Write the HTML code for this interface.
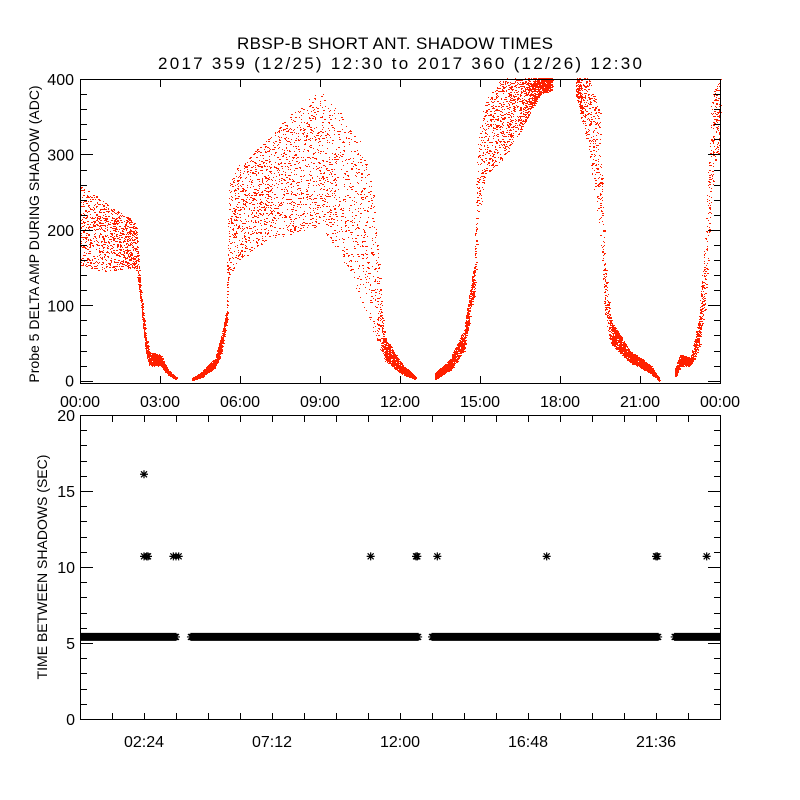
<!DOCTYPE html>
<html><head><meta charset="utf-8"><style>
body{margin:0;background:#fff}
svg{display:block;font-family:"Liberation Sans",sans-serif}
</style></head><body>
<svg id="chart" width="800" height="800" viewBox="0 0 800 800">
<defs><clipPath id="botClip"><rect x="80" y="415" width="641" height="305"/></clipPath></defs>
<rect width="800" height="800" fill="#fff"/>
<text x="237" y="49" textLength="316" lengthAdjust="spacing" font-size="17">RBSP-B SHORT ANT. SHADOW TIMES</text>
<text x="158" y="69" textLength="484" lengthAdjust="spacing" font-size="17">2017 359 (12/25) 12:30 to 2017 360 (12/26) 12:30</text>
<g id="topPanel"></g>
<g id="botPanel"></g>
<text transform="translate(39,234) rotate(-90)" text-anchor="middle" font-size="14">Probe 5 DELTA AMP DURING SHADOW (ADC)</text>
<text transform="translate(47,567) rotate(-90)" text-anchor="middle" font-size="14">TIME BETWEEN SHADOWS (SEC)</text>
</svg>
<script>
// Amplitude envelope segments: hours, lower bound, upper bound (ADC)
const seg1Hours=[0.0,1.0,2.1,2.3,2.45,2.6,3.0,3.3,3.6];
const seg1Low=[150,145,150,95,40,20,20,8,2];
const seg1High=[260,235,210,110,60,38,35,14,4];
const seg2Hours=[4.2,4.5,5.06,5.3,5.5,5.55,5.6,6.0,6.75,7.5,8.25,9.0,9.75,10.5,11.06,11.4,12.0,12.56];
const seg2Low=[1,4,18,38,80,125,140,160,180,190,200,200,170,110,60,28,10,2];
const seg2High=[4,10,30,60,95,200,260,290,310,340,365,385,355,320,240,60,25,6];
const seg3Hours=[13.3,13.9,14.4,14.8,14.9,15.2,15.75,16.5,17.25,17.7];
const seg3Low=[2,15,40,120,200,270,290,330,380,385];
const seg3High=[10,30,70,160,320,370,400,402,402,402];
const seg4Hours=[18.6,19.1,19.5,19.7,19.9,20.6,21.4,21.7];
const seg4Low=[380,300,200,80,50,25,10,0];
const seg4High=[402,402,360,150,80,40,20,3];
const seg5Hours=[22.3,22.5,22.9,23.2,23.45,23.7,24.0];
const seg5Low=[5,20,20,40,100,250,320];
const seg5High=[15,35,30,80,200,380,402];
// Interval data (seconds)
const bandStarts=[0,4.16,13.2,22.3];
const bandEnds=[3.64,12.7,21.7,24];
const bandValue=5.4;
const outlierHours=[2.4,2.4,2.5,2.55,3.5,3.6,3.7,10.9,12.6,12.65,13.4,17.5,21.6,21.65,23.5];
const outlierValues=[16.1,10.7,10.7,10.7,10.7,10.7,10.7,10.7,10.7,10.7,10.7,10.7,10.7,10.7,10.7];
const topXTicks=["00:00","03:00","06:00","09:00","12:00","15:00","18:00","21:00","00:00"];
const topYTicks=[0,100,200,300,400];
const botXTicks=["02:24","07:12","12:00","16:48","21:36"];
const botYTicks=[0,5,10,15,20];

const NS="http://www.w3.org/2000/svg";
const L=80,R=720;
const xS=h=>L+h/24*(R-L);
const yTop=v=>383-(v+3)*(304/403);
const yBot=v=>719-v*(304/20);
function mk(tag,attrs,parent){const e=document.createElementNS(NS,tag);for(const k in attrs)e.setAttribute(k,attrs[k]);parent.appendChild(e);return e;}
const topG=document.getElementById('topPanel'),botG=document.getElementById('botPanel');

let seed=12345;
function rnd(){seed=(seed+0x6D2B79F5)|0;let t=Math.imul(seed^(seed>>>15),1|seed);t=(t+Math.imul(t^(t>>>7),61|t))^t;return((t^(t>>>14))>>>0)/4294967296;}
function interp(xs,ys,x){for(let i=0;i<xs.length-1;i++){if(x>=xs[i]&&x<=xs[i+1]){const t=(x-xs[i])/(xs[i+1]-xs[i]);return ys[i]+t*(ys[i+1]-ys[i]);}}return ys[ys.length-1];}
const pts=mk('g',{fill:'#ff2000'},topG);


let d='';
[[seg1Hours,seg1Low,seg1High],[seg2Hours,seg2Low,seg2High],[seg3Hours,seg3Low,seg3High],[seg4Hours,seg4Low,seg4High],[seg5Hours,seg5Low,seg5High]].forEach(([hs,lo,hi])=>{
  const n=Math.round((hs[hs.length-1]-hs[0])*800);
  for(let i=0;i<n;i++){const h=hs[0]+rnd()*(hs[hs.length-1]-hs[0]);const a=interp(hs,lo,h),b=interp(hs,hi,h);
    const p=Math.min(1,0.3+25/Math.max(1,b-a));if(rnd()>p)continue;
    const v=a+rnd()*(b-a);
    if(v>402)continue;const px=Math.round(xS(h)),py=Math.round(yTop(v));const w=rnd()<0.3?2:1;d+=`M${px} ${py}h${w}v1h-${w}z`;}
});
mk('path',{d:d},pts);

const ta=mk('g',{stroke:'#000','stroke-width':1,fill:'none'},topG);


mk('rect',{x:80.5,y:79.5,width:640,height:304},ta);
let td='';
for(let v=0;v<=400;v+=20){const y=Math.round(yTop(v))+0.5;const len=v%100===0?12:6;td+=`M81 ${y}h${len}M720 ${y}h-${len}`;}
for(let h=0;h<=24;h+=3){const x=Math.round(xS(h))+0.5;td+=`M${x} 383v-7M${x} 80v7`;}
mk('path',{d:td},ta);
topYTicks.forEach(v=>{const t=mk('text',{x:74,y:yTop(v)+6,'text-anchor':'end','font-size':16},topG);t.textContent=v;

});
topXTicks.forEach((s,i)=>{const t=mk('text',{x:xS(i*3),y:407,'text-anchor':'middle','font-size':16},topG);t.textContent=s;

});

function star(x,y){return `M${x-4} ${y}h8M${x} ${y-4}v8M${x-3} ${y-3}l6 6M${x-3} ${y+3}l6 -6`;}
let sd='';
bandStarts.forEach((s,i)=>{for(let h=s;h<=bandEnds[i];h+=0.04){sd+=star(xS(h),yBot(bandValue));}});
outlierHours.forEach((h,i)=>{sd+=star(xS(h),yBot(outlierValues[i]));});
const st=mk('path',{d:sd,stroke:'#000','stroke-width':1.2,fill:'none','clip-path':'url(#botClip)'},botG);



const ba=mk('g',{stroke:'#000','stroke-width':1,fill:'none'},botG);


mk('rect',{x:80.5,y:415.5,width:640,height:304},ba);
let bd='';
for(let v=0;v<=20;v++){const y=Math.round(yBot(v))+0.5;const len=v%5===0?12:6;bd+=`M81 ${y}h${len}M720 ${y}h-${len}`;}
for(let k=1;k<20;k++){const x=Math.round(xS(k*1.2))+0.5;bd+=`M${x} 719v-6M${x} 416v6`;}
mk('path',{d:bd},ba);
botYTicks.forEach(v=>{const t=mk('text',{x:75,y:yBot(v)+6,'text-anchor':'end','font-size':16},botG);t.textContent=v;

});
botXTicks.forEach((s,i)=>{const t=mk('text',{x:xS((i+0.5)*4.8),y:747,'text-anchor':'middle','font-size':16},botG);t.textContent=s;

});
</script>
</body></html>
